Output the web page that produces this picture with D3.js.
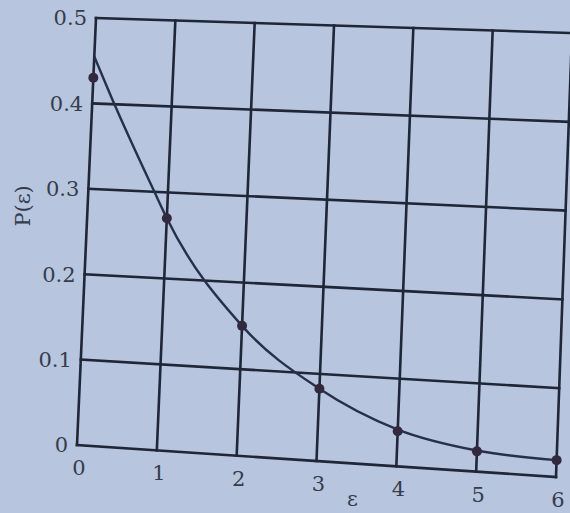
<!DOCTYPE html>
<html>
<head>
<meta charset="utf-8">
<script src="https://cdn.jsdelivr.net/npm/d3@7"></script>
<style>
  html, body { margin: 0; padding: 0; background: #b7c5de; }
  svg { display: block; }
  .grid { stroke: #1e2638; stroke-width: 2.6; fill: none; stroke-linecap: square; }
  .curve { stroke: #27304a; stroke-width: 2.4; fill: none; }
  .dot { fill: #33293f; }
  text { font-family: 'DejaVu Serif', 'Liberation Serif', serif; fill: #353c4c; font-size: 21px; }
</style>
</head>
<body>
<svg id="svg" width="570" height="513"></svg>
<script>
const X_TICKS = [0, 1, 2, 3, 4, 5, 6]
const Y_TICKS = [0, 0.1, 0.2, 0.3, 0.4, 0.5]
const Y_LABELS = ['0', '0.1', '0.2', '0.3', '0.4', '0.5']

// sampled points
const PT_E = [0, 1, 2, 3, 4, 5, 6]
const PT_P = [0.43, 0.27, 0.15, 0.083, 0.04, 0.023, 0.019]

// smooth curve knots
const CURVE_E = [0, 0.28, 0.83, 1, 2, 3, 4, 5, 6]
const CURVE_P = [0.455, 0.40, 0.30, 0.27, 0.15, 0.083, 0.042, 0.024, 0.019]

// the page in the photo is tilted: frame corners on screen
const TL = [96, 18]
const TR = [572, 33]
const BR = [556, 477]
const BL = [77, 445]

const x = d3.scaleLinear().domain([0, 6]).range([0, 1])
const y = d3.scaleLinear().domain([0, 0.5]).range([0, 1])

function proj (u, v) {
  const a = (1 - u) * (1 - v)
  const b = u * (1 - v)
  const c = u * v
  const d = (1 - u) * v
  return [
    a * BL[0] + b * BR[0] + c * TR[0] + d * TL[0],
    a * BL[1] + b * BR[1] + c * TR[1] + d * TL[1]
  ]
}

function pos (e, p) {
  return proj(x(e), y(p))
}

const svg = d3.select('svg')

// vertical grid lines
svg.append('g')
  .selectAll('line')
  .data(X_TICKS)
  .join('line')
  .attr('class', 'grid')
  .attr('x1', d => pos(d, 0)[0])
  .attr('y1', d => pos(d, 0)[1])
  .attr('x2', d => pos(d, 0.5)[0])
  .attr('y2', d => pos(d, 0.5)[1])

// horizontal grid lines
svg.append('g')
  .selectAll('line')
  .data(Y_TICKS)
  .join('line')
  .attr('class', 'grid')
  .attr('x1', d => pos(0, d)[0])
  .attr('y1', d => pos(0, d)[1])
  .attr('x2', d => pos(6, d)[0])
  .attr('y2', d => pos(6, d)[1])

// curve
const knots = CURVE_E.map((e, i) => pos(e, CURVE_P[i]))
svg.append('path')
  .attr('class', 'curve')
  .attr('d', d3.line().curve(d3.curveMonotoneX)(knots))

// dots
svg.append('g')
  .selectAll('circle')
  .data(PT_E)
  .join('circle')
  .attr('class', 'dot')
  .attr('cx', (d, i) => pos(d, PT_P[i])[0])
  .attr('cy', (d, i) => pos(d, PT_P[i])[1])
  .attr('r', 5)

// y tick labels
svg.append('g')
  .selectAll('text')
  .data(Y_TICKS)
  .join('text')
  .attr('x', d => pos(0, d)[0] - 9)
  .attr('y', d => pos(0, d)[1])
  .attr('dy', '0.35em')
  .attr('text-anchor', 'end')
  .text((d, i) => Y_LABELS[i])

// x tick labels
svg.append('g')
  .selectAll('text')
  .data(X_TICKS)
  .join('text')
  .attr('x', d => pos(d, 0)[0] + 2)
  .attr('y', d => pos(d, 0)[1] + 30)
  .attr('text-anchor', 'middle')
  .text(d => d)

// axis titles
const xt = pos(3.45, 0)
svg.append('text')
  .attr('x', xt[0])
  .attr('y', xt[1] + 43)
  .attr('text-anchor', 'middle')
  .text('ε')

const yt = pos(0, 0.28)
svg.append('text')
  .attr('transform', 'translate(' + (yt[0] - 58) + ',' + yt[1] + ') rotate(-90)')
  .attr('text-anchor', 'middle')
  .text('P(ε)')
</script>
</body>
</html>
